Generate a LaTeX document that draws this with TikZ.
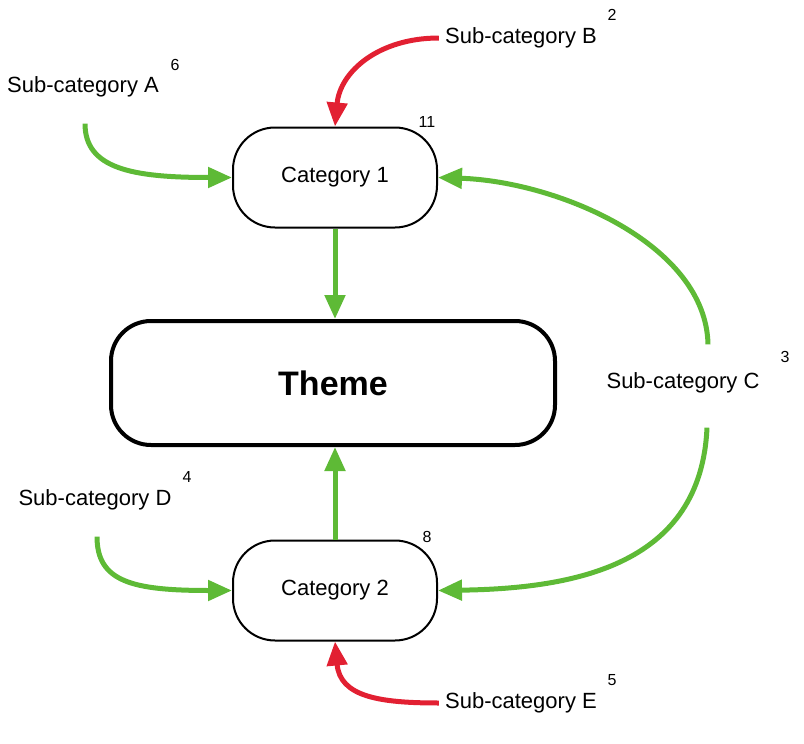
\documentclass[tikz,border=0pt]{standalone}
\usepackage{fontspec}
\setmainfont{Liberation Sans}
\usetikzlibrary{arrows.meta}
\definecolor{linkgreen}{RGB}{94,186,54}
\definecolor{linkred}{RGB}{226,32,50}
\begin{document}
\begin{tikzpicture}[x=0.5pt,y=-0.5pt,
  catbox/.style={draw=black,line width=1pt,rounded corners=21pt,minimum width=102pt,minimum height=50pt,font=\fontsize{11}{13}\selectfont},
  themebox/.style={draw=black,line width=2pt,rounded corners=20pt,minimum width=222pt,minimum height=62pt,font=\fontsize{17}{20}\selectfont\bfseries},
  sublabel/.style={inner sep=0pt,font=\fontsize{11}{13}\selectfont},
  countlabel/.style={inner sep=0pt,font=\fontsize{8}{10}\selectfont},
  greenlink/.style={draw=linkgreen,line width=2.5pt,-{Triangle[length=12pt,width=10pt]}},
  redlink/.style={draw=linkred,line width=2.5pt,-{Triangle[length=12pt,width=10pt]}}]
\useasboundingbox (0,0) rectangle (804,744);
\node [catbox] (cat1) at (335,177.5) {Category 1};
\node [catbox] (cat2) at (335,590.5) {Category 2};
\node [themebox] (theme) at (333,383) {Theme};
\node [sublabel] (subA) at (83,87) {Sub-category A};
\node [sublabel] (subB) at (521,38) {Sub-category B};
\node [sublabel] (subC) at (683,383) {Sub-category C};
\node [sublabel] (subD) at (95,500) {Sub-category D};
\node [sublabel] (subE) at (521,703) {Sub-category E};
\node [countlabel] (numA) at (175,65) {6};
\node [countlabel] (numB) at (612,15) {2};
\node [countlabel] (numC) at (785,357) {3};
\node [countlabel] (numD) at (187,477) {4};
\node [countlabel] (numE) at (612,680) {5};
\node [countlabel] (num1) at (427,122) {11};
\node [countlabel] (num2) at (427,537) {8};
\draw [greenlink] ([xshift=1pt,yshift=-13pt]subA.south) .. controls +(0,45) and +(-100,0) .. (cat1.west);
\draw [redlink] ([xshift=-3pt]subB.west) .. controls +(-60,0) and +(5,-55) .. (cat1.north);
\draw [greenlink] (cat1.south) -- (cat1.south |- theme.north);
\draw [greenlink] (cat2.north) -- (cat2.north |- theme.south);
\draw [greenlink] ([xshift=12.5pt,yshift=14pt]subC.north) .. controls +(-2,-100) and +(120,4) .. (cat1.east);
\draw [greenlink] ([xshift=12pt,yshift=-17pt]subC.south) .. controls +(-6,137) and +(138,-2) .. (cat2.east);
\draw [greenlink] ([xshift=1pt,yshift=-13pt]subD.south) .. controls +(0,45) and +(-100,0) .. (cat2.west);
\draw [redlink] ([xshift=-3pt]subE.west) .. controls +(-60,0) and +(5,55) .. (cat2.south);
\end{tikzpicture}
\end{document}
